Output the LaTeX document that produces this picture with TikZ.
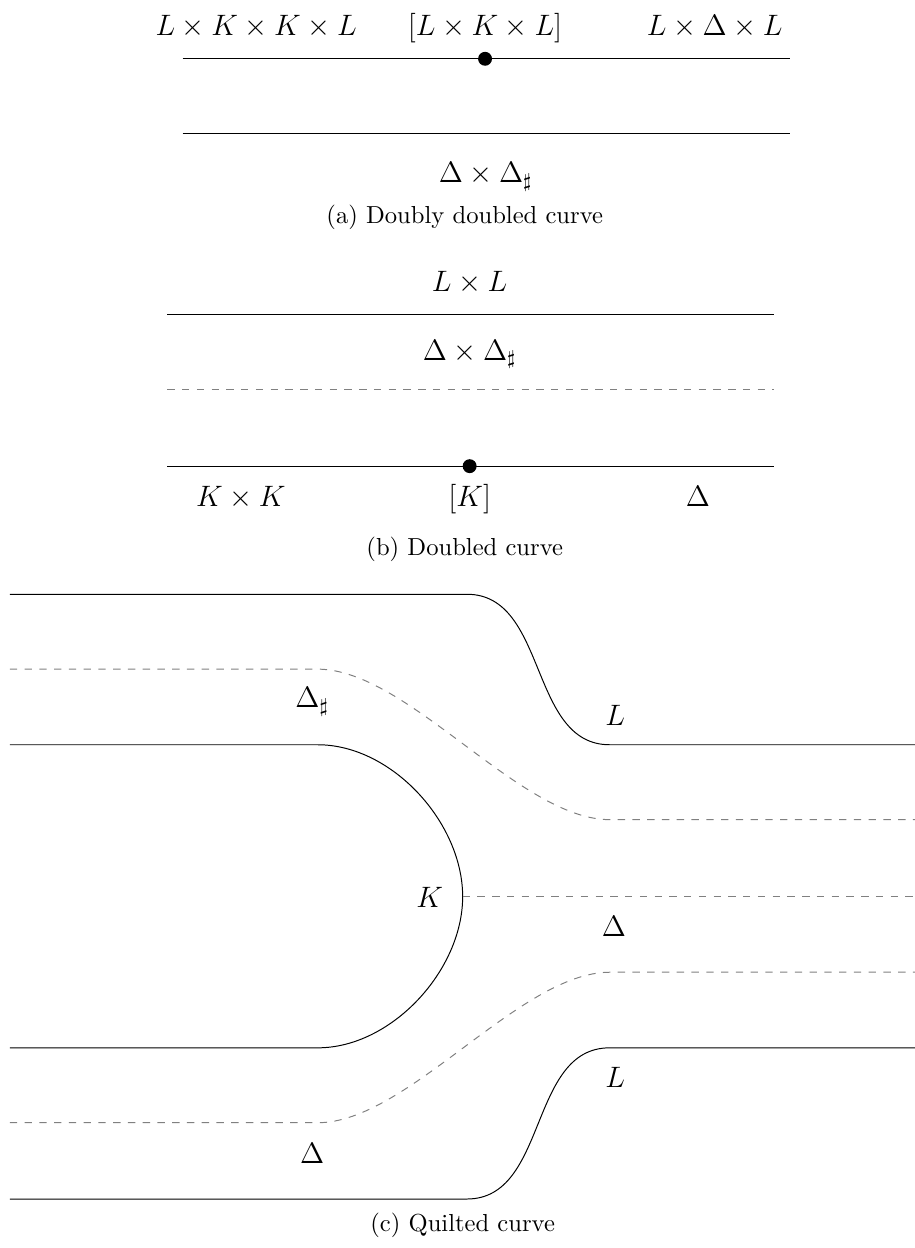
\documentclass[tikz,border=0pt]{standalone}
\begin{document}
\begin{tikzpicture}[
  lbl/.style={anchor=base, font=\large},
  capt/.style={anchor=base},
  dot/.style={circle, fill, inner sep=2pt},
  diag/.style={gray, dashed}]
\useasboundingbox (0,0) rectangle (13.07,-17.83);
% (a) curva doppiamente raddoppiata
\draw (2.61,-0.84) -- (11.29,-0.84);
\draw (6.93,-0.84) node[dot] (pa) {};
\node[lbl] (a1) at (3.66,-0.507) {$L \times K \times K \times L$};
\node[lbl] (a2) at (6.93,-0.507) {$[L \times K \times L]$};
\node[lbl] (a3) at (10.21,-0.507) {$L \times \Delta \times L$};
\draw (2.61,-1.91) -- (11.29,-1.91);
\node[lbl] (a4) at (6.94,-2.61) {$\Delta \times \Delta_\sharp$};
\node[capt] (capa) at (6.64,-3.19) {(a) Doubly doubled curve};
% (b) curva raddoppiata
\node[lbl] (b1) at (6.71,-4.16) {$L \times L$};
\draw (2.39,-4.49) -- (11.06,-4.49);
\node[lbl] (b2) at (6.71,-5.15) {$\Delta \times \Delta_\sharp$};
\draw[diag] (2.39,-5.57) -- (11.06,-5.57); % diagonale
\draw (2.39,-6.66) -- (11.06,-6.66);
\draw (6.71,-6.66) node[dot] (pb) {};
\node[lbl] (b3) at (3.44,-7.24) {$K \times K$};
\node[lbl] (b4) at (6.71,-7.24) {$[K]$};
\node[lbl] (b5) at (9.97,-7.24) {$\Delta$};
\node[capt] (capb) at (6.64,-7.94) {(b) Doubled curve};
% (c) curva trapuntata
\draw (0.14,-8.49) -- (6.67,-8.49) to[out=0,in=180] (8.71,-10.64) -- (13.07,-10.64);
\draw[diag] (0.14,-9.56) -- (4.54,-9.56) to[out=0,in=180,looseness=0.7] (8.71,-11.71) -- (13.07,-11.71);
\draw (0.14,-10.64) -- (4.54,-10.64) to[out=0,in=90,looseness=0.9] (6.61,-12.81)
  to[out=-90,in=0,looseness=0.9] (4.54,-14.97) -- (0.14,-14.97); % bordo K
\draw[diag] (6.61,-12.81) -- (13.07,-12.81);
\draw[diag] (0.14,-16.04) -- (4.54,-16.04) to[out=0,in=180,looseness=0.7] (8.71,-13.89) -- (13.07,-13.89);
\draw (0.14,-17.13) -- (6.67,-17.13) to[out=0,in=180] (8.71,-14.97) -- (13.07,-14.97);
\node[lbl] (c1) at (4.46,-10.11) {$\Delta_\sharp$};
\node[lbl] (c2) at (8.79,-10.36) {$L$};
\node[lbl] (c3) at (6.14,-12.96) {$K$};
\node[lbl] (c4) at (8.77,-13.38) {$\Delta$};
\node[lbl] (c5) at (8.79,-15.53) {$L$};
\node[lbl] (c6) at (4.46,-16.62) {$\Delta$};
\node[capt] (capc) at (6.61,-17.6) {(c) Quilted curve};
\end{tikzpicture}
\end{document}
